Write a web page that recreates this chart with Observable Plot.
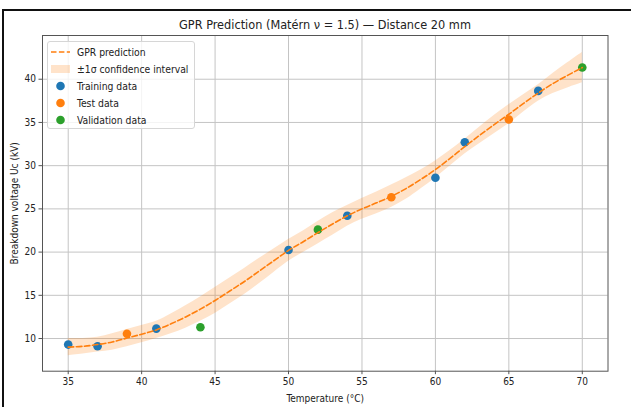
<!DOCTYPE html>
<html>
<head>
<meta charset="utf-8">
<script src="https://cdn.jsdelivr.net/npm/d3@7"></script>
<script src="https://cdn.jsdelivr.net/npm/@observablehq/plot@0.6"></script>
<style>
  body { margin: 0; background: #fff; }
  #fig {
    position: relative; width: 631px; height: 407px; overflow: hidden; background: #fff;
    font-family: "DejaVu Sans Condensed", "DejaVu Sans", sans-serif; color: #222;
  }
  #outline {
    position: absolute; left: 2px; top: 9px; width: 700px; height: 500px;
    border-left: 2px solid #111; border-top: 2px solid #111; pointer-events: none;
  }
  #title {
    position: absolute; left: 42px; width: 566px; top: 0; height: 30px;
    font-size: 12.6px; line-height: 14px; text-align: center; padding-top: 18px; box-sizing: border-box;
    white-space: nowrap;
  }
  #chart { position: absolute; left: 0; top: 30px; }
  #legend {
    position: absolute; left: 47px; top: 41px; width: 148px; height: 88px; box-sizing: border-box;
    background: rgba(255,255,255,0.8); border: 1px solid #d6d6d6; border-radius: 3px;
    font-size: 10.3px; padding: 1px 0 0 0;
  }
  .item { display: flex; align-items: center; height: 17.2px; }
  .item svg { margin-left: 3px; margin-right: 7px; flex: none; }
</style>
</head>
<body>
<div id="fig">
  <div id="title"></div>
  <div id="chart"></div>
  <div id="legend"></div>
  <div id="outline"></div>
</div>
<script>
// Chart text
const titleText = "GPR Prediction (Matérn ν = 1.5) — Distance 20 mm";
const xLabel = "Temperature (°C)";
const yLabel = "Breakdown voltage Uc (kV)";

// Axis ticks
const xTicks = [35, 40, 45, 50, 55, 60, 65, 70];
const yTicks = [10, 15, 20, 25, 30, 35, 40];

// Measured samples (temperature °C, breakdown voltage kV)
const trainT = [35, 37, 41, 50, 54, 60, 62, 67];
const trainU = [9.3, 9.1, 11.15, 20.25, 24.2, 28.6, 32.7, 38.65];
const testT = [39, 57, 65];
const testU = [10.55, 26.35, 35.35];
const validT = [44, 52, 70];
const validU = [11.3, 22.6, 41.35];

// GPR posterior mean and standard deviation over the temperature grid
const gridT = [35, 36, 37, 38, 39, 40, 41, 42, 43, 44, 45, 46, 47, 48, 49, 50, 51, 52,
               53, 54, 55, 56, 57, 58, 59, 60, 61, 62, 63, 64, 65, 66, 67, 68, 69, 70];
const gprMean = [9.0, 9.1, 9.3, 9.6, 10.05, 10.5, 11.0, 11.7, 12.5, 13.4, 14.4, 15.5,
                 16.6, 17.8, 19.0, 20.2, 21.2, 22.25, 23.25, 24.2, 25.0, 25.7, 26.45, 27.35,
                 28.4, 29.55, 30.85, 32.2, 33.5, 34.75, 35.95, 37.2, 38.4, 39.5, 40.45, 41.35];
const gprSigma = [1.0, 0.9, 0.85, 0.95, 1.0, 1.0, 1.0, 1.15, 1.3, 1.4, 1.5, 1.5,
                  1.5, 1.45, 1.35, 1.25, 1.25, 1.3, 1.3, 1.2, 1.2, 1.25, 1.3, 1.25,
                  1.1, 1.0, 0.9, 0.85, 0.95, 1.05, 1.1, 1.0, 0.95, 1.15, 1.45, 1.75];

// Series names and colours
const seriesNames = ["GPR prediction", "±1σ confidence interval", "Training data", "Test data", "Validation data"];
const lineColor = "#ff7f0e";
const bandColor = "#ff7f0e";
const trainColor = "#1f77b4";
const testColor = "#ff7f0e";
const validColor = "#2ca02c";

const pts = (xs, ys) => xs.map((x, i) => ({t: x, u: ys[i]}));
const training = pts(trainT, trainU);
const testing = pts(testT, testU);
const validation = pts(validT, validU);
const pred = gridT.map((t, i) => ({t, mean: gprMean[i], lo: gprMean[i] - gprSigma[i], hi: gprMean[i] + gprSigma[i]}));

const font = '"DejaVu Sans Condensed", "DejaVu Sans", sans-serif';
const gridStroke = "#c4c4c4";

const chart = Plot.plot({
  width: 631,
  height: 377,
  marginLeft: 42,
  marginRight: 23.5,
  marginTop: 5,
  marginBottom: 36.3,
  style: {fontFamily: font, fontSize: "10px", color: "#222", background: "transparent", overflow: "visible"},
  x: {domain: [33.25, 71.75]},
  y: {domain: [6.22, 45.06]},
  marks: [
    Plot.gridX(xTicks, {stroke: gridStroke, strokeOpacity: 1, strokeWidth: 1}),
    Plot.gridY(yTicks, {stroke: gridStroke, strokeOpacity: 1, strokeWidth: 1}),
    Plot.areaY(pred, {x: "t", y1: "lo", y2: "hi", fill: bandColor, fillOpacity: 0.22, curve: "catmull-rom"}),
    Plot.dot(training, {x: "t", y: "u", r: 4.3, fill: trainColor}),
    Plot.dot(testing, {x: "t", y: "u", r: 4.3, fill: testColor}),
    Plot.dot(validation, {x: "t", y: "u", r: 4.3, fill: validColor}),
    Plot.line(pred, {x: "t", y: "mean", stroke: lineColor, strokeWidth: 1.6,
                     strokeDasharray: "5.5,2.6", curve: "catmull-rom"}),
    Plot.frame({stroke: "#555", strokeWidth: 1}),
    Plot.axisX(xTicks, {tickSize: 3.5, tickPadding: 3, stroke: "#555",
                        label: xLabel, labelAnchor: "center", labelArrow: "none", labelOffset: 31}),
    Plot.axisY(yTicks, {tickSize: 3.5, tickPadding: 3, stroke: "#555",
                        label: yLabel, labelAnchor: "center", labelArrow: "none", labelOffset: 32})
  ]
});
document.getElementById("chart").appendChild(chart);
document.getElementById("title").textContent = titleText;

// Legend drawn in the upper-left corner of the axes
const legend = d3.select("#legend");
const handles = [
  g => g.append("line").attr("x1", 0).attr("x2", 19).attr("y1", 6).attr("y2", 6)
        .attr("stroke", lineColor).attr("stroke-width", 1.5).attr("stroke-dasharray", "5.5,2.4"),
  g => g.append("rect").attr("x", 0).attr("y", 2).attr("width", 19).attr("height", 8)
        .attr("fill", bandColor).attr("fill-opacity", 0.22),
  g => g.append("circle").attr("cx", 9.5).attr("cy", 6).attr("r", 4.3).attr("fill", trainColor),
  g => g.append("circle").attr("cx", 9.5).attr("cy", 6).attr("r", 4.3).attr("fill", testColor),
  g => g.append("circle").attr("cx", 9.5).attr("cy", 6).attr("r", 4.3).attr("fill", validColor)
];
seriesNames.forEach((name, i) => {
  const row = legend.append("div").attr("class", "item");
  const svg = row.append("svg").attr("width", 19).attr("height", 12);
  handles[i](svg);
  row.append("span").text(name);
});
</script>
</body>
</html>
